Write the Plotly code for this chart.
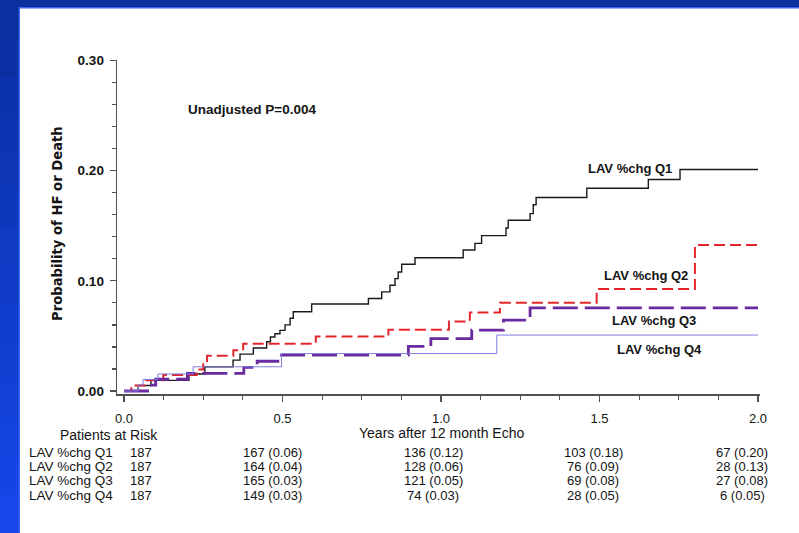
import plotly.graph_objects as go

# ---------------- data ----------------
q1_t = [0, 0.045, 0.085, 0.205, 0.255, 0.344, 0.366, 0.408, 0.45, 0.462, 0.476, 0.492, 0.508,
        0.524, 0.534, 0.592, 0.771, 0.813, 0.839, 0.855, 0.865, 0.876, 0.918, 1.07, 1.107,
        1.128, 1.205, 1.212, 1.281, 1.291, 1.30, 1.46, 1.654, 1.754, 2.0]
q1_p = [0, 0.005, 0.0097, 0.0154, 0.022, 0.028, 0.0335, 0.039, 0.0447, 0.049, 0.052, 0.055, 0.060,
        0.066, 0.072, 0.079, 0.084, 0.090, 0.096, 0.102, 0.108, 0.115, 0.121, 0.128, 0.134,
        0.141, 0.148, 0.155, 0.161, 0.169, 0.1756, 0.184, 0.192, 0.201, 0.201]

q2_t = [0, 0.023, 0.065, 0.124, 0.229, 0.25, 0.262, 0.345, 0.376, 0.605, 0.834, 1.025, 1.091,
        1.186, 1.491, 1.801, 2.0]
q2_p = [0, 0.005, 0.0097, 0.0145, 0.0195, 0.026, 0.032, 0.037, 0.043, 0.0495, 0.0555, 0.063, 0.0713,
        0.080, 0.0925, 0.1325, 0.1325]

q3_t = [0, 0.081, 0.10, 0.20, 0.378, 0.42, 0.492, 0.897, 0.968, 1.097, 1.197, 1.281, 2.0]
q3_p = [0, 0.0053, 0.0107, 0.016, 0.0215, 0.027, 0.0326, 0.0405, 0.0475, 0.0553, 0.0644, 0.0755, 0.0755]

q4_t = [0, 0.045, 0.06, 0.107, 0.218, 0.497, 1.176, 2.0]
q4_p = [0, 0.0055, 0.0105, 0.0155, 0.022, 0.034, 0.0508, 0.0508]

series_names = ["LAV %chg Q1", "LAV %chg Q2", "LAV %chg Q3", "LAV %chg Q4"]
risk_times = [0.0, 0.5, 1.0, 1.5, 2.0]
risk_table = [
    ["187", "167 (0.06)", "136 (0.12)", "103 (0.18)", "67 (0.20)"],
    ["187", "164 (0.04)", "128 (0.06)", "76 (0.09)", "28 (0.13)"],
    ["187", "165 (0.03)", "121 (0.05)", "69 (0.08)", "27 (0.08)"],
    ["187", "149 (0.03)", "74 (0.03)", "28 (0.05)", "6 (0.05)"],
]
x_ticks = [0.0, 0.5, 1.0, 1.5, 2.0]
x_tick_text = ["0.0", "0.5", "1.0", "1.5", "2.0"]
y_ticks = [0.0, 0.1, 0.2, 0.3]
y_tick_text = ["0.00", "0.10", "0.20", "0.30"]
p_text = "Unadjusted P=0.004"

# ---------------- layout geometry ----------------
W, H = 799, 533
L, R, T, B = 117, 39, 60, 139
PW, PH = W - L - R, H - T - B


def px2x(px):
    return (px - L) / PW


def py2y(py):
    return (H - B - py) / PH


FONT = "Liberation Sans, Arial, sans-serif"
INK = "#141414"

fig = go.Figure()

styles = [
    dict(color="#1a1a1a", width=1.4, dash="solid"),
    dict(color="#e3242b", width=2.0, dash="11px,5px"),
    dict(color="#6a2aa0", width=2.8, dash="25px,7px"),
    dict(color="#7f7fe0", width=1.0, dash="solid"),
]
for name, tt, pp, st in zip(series_names, [q1_t, q2_t, q3_t, q4_t], [q1_p, q2_p, q3_p, q4_p], styles):
    fig.add_trace(go.Scatter(x=tt, y=pp, mode="lines", name=name, line=dict(shape="hv", **st),
                             showlegend=False, hoverinfo="skip"))

axis_col = "#505050"
fig.update_xaxes(range=[(L - 124) / 317.0, (W - R - 124) / 317.0],
                 tickvals=x_ticks, ticktext=x_tick_text, ticks="outside", ticklen=6, tickwidth=1.3,
                 tickcolor=axis_col, showline=True, linecolor=axis_col, linewidth=2,
                 showgrid=False, zeroline=False, ticklabelstandoff=5,
                 tickfont=dict(family=FONT, size=13, color=INK),
                 minor=dict(dtick=0.125, tick0=0, ticks="outside", ticklen=4, tickcolor=axis_col,
                            tickwidth=1.2, showgrid=False))
fig.update_yaxes(range=[-0.0027, 0.3004],
                 tickvals=y_ticks, ticktext=y_tick_text, ticks="outside", ticklen=6, tickwidth=1.3,
                 tickcolor=axis_col, showline=True, linecolor=axis_col, linewidth=1.4,
                 showgrid=False, zeroline=False, ticklabelstandoff=3,
                 tickfont=dict(family=FONT, size=13.5, color=INK, weight="bold"),
                 minor=dict(dtick=0.02, tick0=0, ticks="outside", ticklen=4, tickcolor=axis_col,
                            tickwidth=1.2, showgrid=False))

ann = []
# y axis title
ann.append(dict(text="<b>Probability of HF or Death</b>", x=px2x(57), y=py2y(224), xref="paper",
                yref="paper", textangle=-90, showarrow=False, xanchor="center", yanchor="middle",
                font=dict(family="DejaVu Sans", size=13.2, color=INK)))
# p-value
ann.append(dict(text="<b>" + p_text + "</b>", x=px2x(252), y=py2y(110), xref="paper", yref="paper",
                showarrow=False, xanchor="center", yanchor="middle",
                font=dict(family=FONT, size=13.5, color=INK)))
# curve labels
lab_pos = [(630, 168), (645.5, 275), (654, 320), (659, 349)]
for name, (cx, cy) in zip(series_names, lab_pos):
    ann.append(dict(text="<b>" + name + "</b>", x=px2x(cx), y=py2y(cy), xref="paper", yref="paper",
                    showarrow=False, xanchor="center", yanchor="middle",
                    font=dict(family=FONT, size=13, color=INK)))
# x axis title and at-risk header
ann.append(dict(text="Years after 12 month Echo", x=px2x(441), y=py2y(433), xref="paper", yref="paper",
                showarrow=False, xanchor="center", yanchor="middle",
                font=dict(family=FONT, size=14, color=INK)))
ann.append(dict(text="Patients at Risk", x=px2x(109), y=py2y(435), xref="paper", yref="paper",
                showarrow=False, xanchor="center", yanchor="middle",
                font=dict(family=FONT, size=14, color=INK)))
row_y = [452, 466.5, 481, 495.5]
col_x = [141, 272, 433, 593, 742]
for name, ry, row in zip(series_names, row_y, risk_table):
    ann.append(dict(text=name, x=px2x(28), y=py2y(ry), xref="paper", yref="paper", showarrow=False,
                    xanchor="left", yanchor="middle", borderpad=0,
                    font=dict(family=FONT, size=13.5, color=INK)))
    for cx, cell in zip(col_x, row):
        ann.append(dict(text=cell, x=px2x(cx), y=py2y(ry), xref="paper", yref="paper",
                        showarrow=False, xanchor="center", yanchor="middle", borderpad=0,
                        font=dict(family=FONT, size=13, color=INK)))

# slide background: blue strips on the left and top
shapes = []
n = 14
c0, c1 = (10, 47, 159), (21, 71, 234)
for i in range(n):
    f = i / (n - 1)
    col = "rgb(%d,%d,%d)" % tuple(int(a + (b - a) * f) for a, b in zip(c0, c1))
    y_top = i * H / n
    y_bot = (i + 1) * H / n + 1
    shapes.append(dict(type="rect", xref="paper", yref="paper", x0=px2x(0), x1=px2x(19),
                       y0=py2y(y_bot), y1=py2y(y_top), fillcolor=col, line=dict(width=0), layer="below"))
shapes.append(dict(type="rect", xref="paper", yref="paper", x0=px2x(0), x1=px2x(W),
                   y0=py2y(7), y1=py2y(0), fillcolor="#0b2f9e", line=dict(width=0), layer="below"))
shapes.append(dict(type="rect", xref="paper", yref="paper", x0=px2x(19), x1=px2x(W),
                   y0=py2y(8.5), y1=py2y(7), fillcolor="#3a66ee", line=dict(width=0), layer="below"))
shapes.append(dict(type="rect", xref="paper", yref="paper", x0=px2x(18.5), x1=px2x(20),
                   y0=py2y(H), y1=py2y(7), fillcolor="#3a66ee", line=dict(width=0), layer="below"))

fig.update_layout(width=W, height=H, paper_bgcolor="white", plot_bgcolor="white",
                  margin=dict(l=L, r=R, t=T, b=B, autoexpand=False),
                  annotations=ann, shapes=shapes, showlegend=False)

fig.write_html("out.html", config={"displayModeBar": False, "staticPlot": True},
               post_script="document.body.style.margin='0';document.body.style.padding='0';")
